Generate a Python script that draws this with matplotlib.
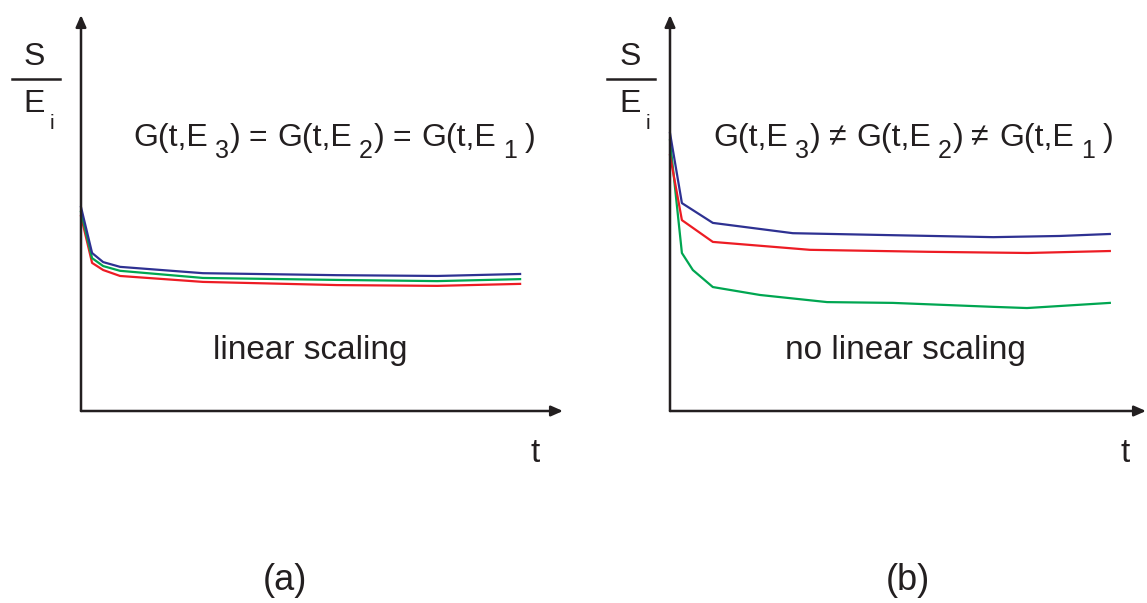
import matplotlib
matplotlib.use("Agg")
import matplotlib.pyplot as plt
from matplotlib.lines import Line2D

plt.rcParams['font.family'] = ['Liberation Sans', 'DejaVu Sans']

# ---- data (arbitrary units) ----
t_a = [0.0, 0.23, 0.46, 0.81, 2.53, 5.31, 7.39, 9.11]
blue_a = [5.15, 3.99, 3.76, 3.64, 3.48, 3.43, 3.41, 3.46]
green_a = [5.03, 3.86, 3.66, 3.54, 3.36, 3.31, 3.28, 3.33]
red_a = [4.92, 3.74, 3.56, 3.41, 3.26, 3.18, 3.16, 3.21]

t_b_blue = [0.0, 0.25, 0.90, 2.58, 4.66, 6.79, 8.19, 9.24]
blue_b = [7.02, 5.25, 4.75, 4.49, 4.44, 4.39, 4.42, 4.47]
t_b_red = [0.0, 0.25, 0.90, 2.94, 5.42, 7.52, 9.24]
red_b = [6.46, 4.82, 4.27, 4.07, 4.02, 3.99, 4.04]
t_b_green = [0.0, 0.25, 0.48, 0.90, 1.89, 3.30, 4.68, 6.79, 7.50, 9.24]
green_b = [6.84, 3.99, 3.56, 3.13, 2.93, 2.75, 2.73, 2.63, 2.60, 2.73]

energy_subs = ['3', '2', '1']
panel_labels = ['(a)', '(b)']
scaling_labels = ['linear scaling', 'no linear scaling']
relations = ['=', '≠']

BLUE = '#2e3192'
GREEN = '#00a651'
RED = '#ed1c24'
TC = '#231f20'

W, H = 1147, 603
fig = plt.figure(figsize=(W / 100, H / 100), dpi=100)
renderer = fig.canvas.get_renderer()


def fx(px):
    return px / W


def fy(py):
    return 1 - py / H


def make_axes(x0, x1, y0, y1):
    ax = fig.add_axes([fx(x0), fy(y0), fx(x1) - fx(x0), fy(y1) - fy(y0)])
    ax.set_xlim(0, 10)
    ax.set_ylim(0, 10)
    ax.axis('off')
    arrow = dict(arrowstyle='-|>,head_length=0.5,head_width=0.22', color=TC,
                 lw=1.8, shrinkA=0, shrinkB=0, mutation_scale=14)
    ax.annotate('', xy=(1, 0), xytext=(0, 0), xycoords='axes fraction',
                arrowprops=arrow, annotation_clip=False)
    ax.annotate('', xy=(0, 1), xytext=(0, 0), xycoords='axes fraction',
                arrowprops=arrow, annotation_clip=False)
    return ax


ax_a = make_axes(81, 563, 411, 15)
ax_a.plot(t_a, red_a, color=RED, lw=1.6, clip_on=False)
ax_a.plot(t_a, green_a, color=GREEN, lw=1.6, clip_on=False)
ax_a.plot(t_a, blue_a, color=BLUE, lw=1.6, clip_on=False)

ax_b = make_axes(670, 1146, 411, 15)
ax_b.plot(t_b_green, green_b, color=GREEN, lw=1.6, clip_on=False)
ax_b.plot(t_b_red, red_b, color=RED, lw=1.6, clip_on=False)
ax_b.plot(t_b_blue, blue_b, color=BLUE, lw=1.6, clip_on=False)


def ylabel(cx, left, right):
    fig.text(fx(cx), fy(57), 'S', fontsize=23, ha='center', va='center', color=TC)
    fig.add_artist(Line2D([fx(left), fx(right)], [fy(79), fy(79)], color=TC, lw=1.8))
    fig.text(fx(cx), fy(104), 'E', fontsize=23, ha='center', va='center', color=TC)
    fig.text(fx(cx + 18), fy(124), 'i', fontsize=15, ha='center', va='center', color=TC)


ylabel(34, 12, 60)
ylabel(630, 607, 655)

fig.text(fx(535), fy(453), 't', fontsize=24, ha='center', va='center', color=TC)
fig.text(fx(1125), fy(453), 't', fontsize=24, ha='center', va='center', color=TC)


def chain(x, base, rel):
    MAIN, SUB, DROP = 23, 18, 12
    pieces = []
    for k, s in enumerate(energy_subs):
        pieces.append(('G(t,E', MAIN, 0, 0 if k == 0 else 10))
        pieces.append((s, SUB, DROP, 7))
        if k < len(energy_subs) - 1:
            pieces.append((')', MAIN, 0, 1))
            pieces.append((rel, MAIN, 0, 8))
        else:
            pieces.append((')', MAIN, 0, 8))
    for txt, size, dy, gap in pieces:
        x += gap
        t = fig.text(fx(x), fy(base + dy), txt, fontsize=size, ha='left',
                     va='baseline', color=TC)
        x += t.get_window_extent(renderer).width


chain(133, 146, relations[0])
chain(713, 146, relations[1])

fig.text(fx(310), fy(350), scaling_labels[0], fontsize=24, ha='center', va='center', color=TC)
fig.text(fx(905), fy(350), scaling_labels[1], fontsize=24, ha='center', va='center', color=TC)

fig.text(fx(285), fy(580), panel_labels[0], fontsize=26, ha='center', va='center', color=TC)
fig.text(fx(908), fy(580), panel_labels[1], fontsize=26, ha='center', va='center', color=TC)

fig.savefig('out.png', dpi=100)
